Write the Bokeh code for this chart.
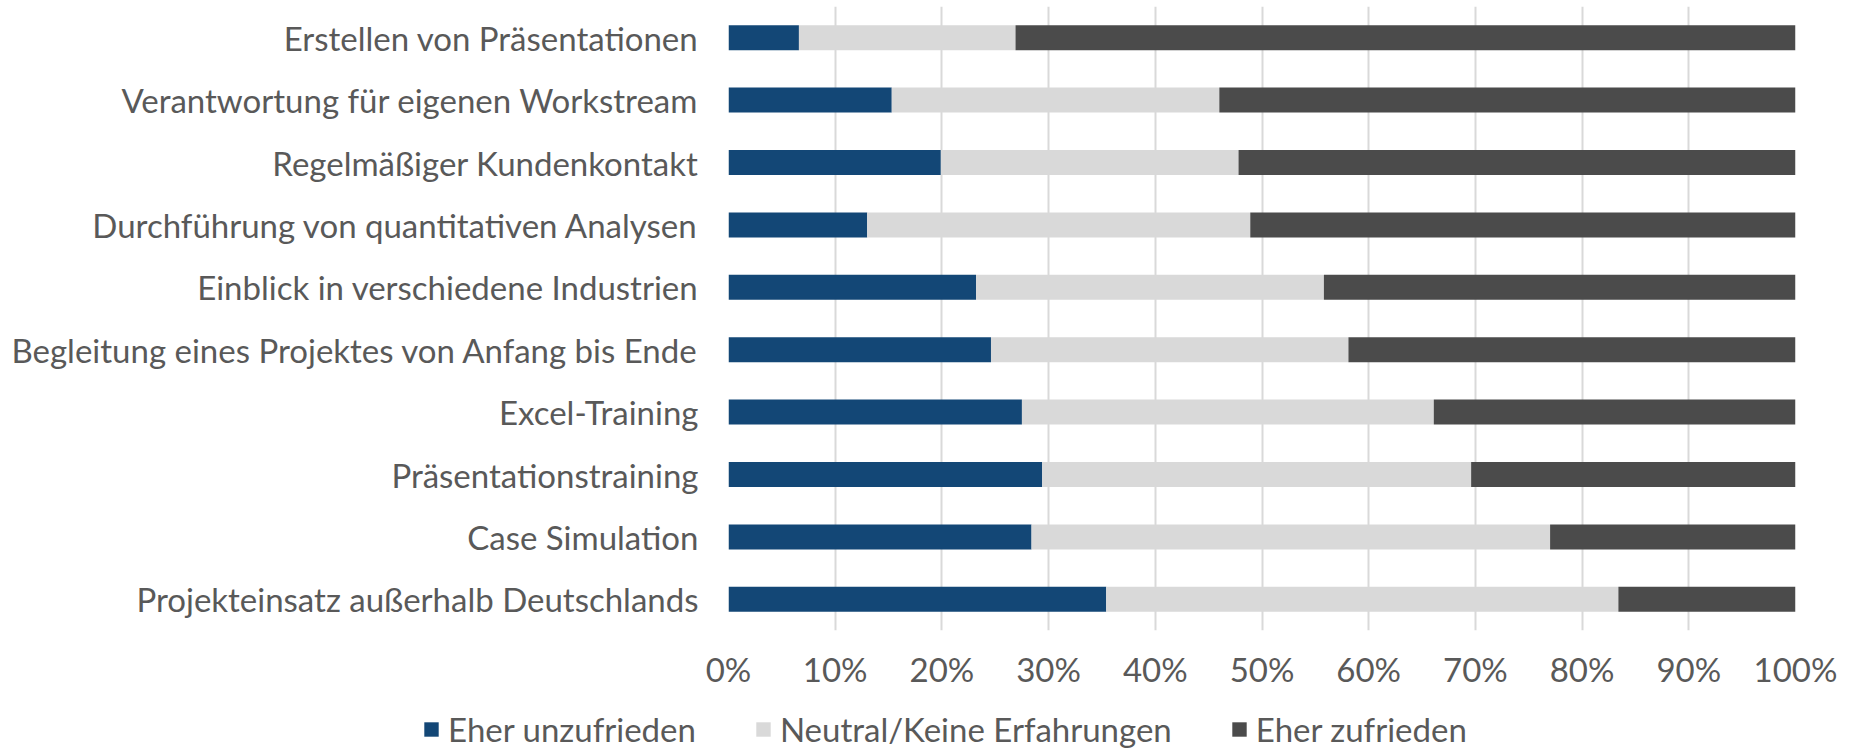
from bokeh.plotting import figure
from bokeh.layouts import column
from bokeh.models import FactorRange, Range1d, FixedTicker, PrintfTickFormatter, Legend, LegendItem
from bokeh.embed import file_html
from bokeh.resources import INLINE

categories = [
    "Erstellen von Präsentationen",
    "Verantwortung für eigenen Workstream",
    "Regelmäßiger Kundenkontakt",
    "Durchführung von quantitativen Analysen",
    "Einblick in verschiedene Industrien",
    "Begleitung eines Projektes von Anfang bis Ende",
    "Excel-Training",
    "Präsentationstraining",
    "Case Simulation",
    "Projekteinsatz außerhalb Deutschlands",
]
eher_unzufrieden = [6.6, 15.3, 19.9, 13.0, 23.2, 24.6, 27.5, 29.4, 28.4, 35.4]
neutral = [20.3, 30.7, 27.9, 35.9, 32.6, 33.5, 38.6, 40.2, 48.6, 48.0]
eher_zufrieden = [73.1, 54.0, 52.2, 51.1, 44.2, 41.9, 33.9, 30.4, 23.0, 16.6]
series_names = ["Eher unzufrieden", "Neutral/Keine Erfahrungen", "Eher zufrieden"]
x_ticks = [0, 10, 20, 30, 40, 50, 60, 70, 80, 90, 100]

colors = ["#134776", "#d9d9d9", "#4b4b4b"]
FONT = "Lato"
FS = "33px"
TXT = "#595959"

source = dict(cat=categories, u=eher_unzufrieden, n=neutral, z=eher_zufrieden)

p = figure(
    y_range=FactorRange(factors=list(reversed(categories)), range_padding=0),
    x_range=Range1d(0, 100),
    frame_width=1067, frame_height=624,
    min_border_left=728, min_border_right=52, min_border_top=6, min_border_bottom=70,
    output_backend="svg", toolbar_location=None,
)
p.hbar_stack(["u", "n", "z"], y="cat", height=0.4, color=colors,
             source=source, line_color=None)

p.xaxis.ticker = FixedTicker(ticks=x_ticks)
p.xaxis.formatter = PrintfTickFormatter(format="%d%%")
for ax in (p.xaxis[0], p.yaxis[0]):
    ax.axis_line_color = None
    ax.major_tick_line_color = None
    ax.minor_tick_line_color = None
    ax.major_tick_out = 0
    ax.major_tick_in = 0
    ax.major_label_text_font = FONT
    ax.major_label_text_font_size = FS
    ax.major_label_text_color = TXT
p.yaxis.major_label_standoff = 30
p.xaxis.major_label_standoff = 18

p.xgrid.grid_line_color = "#d9d9d9"
p.xgrid.grid_line_width = 2
p.xgrid.ticker = FixedTicker(ticks=x_ticks)
p.ygrid.grid_line_color = None
p.outline_line_color = None

# legend strip below the chart
p2 = figure(
    y_range=FactorRange(factors=list(reversed(categories))),
    x_range=Range1d(0, 100),
    frame_width=1847, frame_height=49,
    min_border_left=0, min_border_right=0, min_border_top=0, min_border_bottom=0,
    x_axis_location=None, y_axis_location=None,
    output_backend="svg", toolbar_location=None,
)
leg_renderers = p2.hbar_stack(["u", "n", "z"], y="cat", height=0.4, color=colors,
                              source=source, line_color=None)
for r in leg_renderers:
    r.visible = False
p2.xgrid.grid_line_color = None
p2.ygrid.grid_line_color = None
p2.outline_line_color = None

legend = Legend(
    items=[LegendItem(label=n, renderers=[r]) for n, r in zip(series_names, leg_renderers)],
    orientation="horizontal", location=(422, 0),
    glyph_width=18, glyph_height=18, label_standoff=8, spacing=58,
    padding=0, margin=0, border_line_color=None, background_fill_alpha=0,
    inactive_fill_alpha=0,
    label_text_font=FONT, label_text_font_size=FS, label_text_color=TXT,
)
p2.add_layout(legend, "center")

layout = column(p, p2, spacing=0)
open("out.html", "w").write(file_html(layout, INLINE))
